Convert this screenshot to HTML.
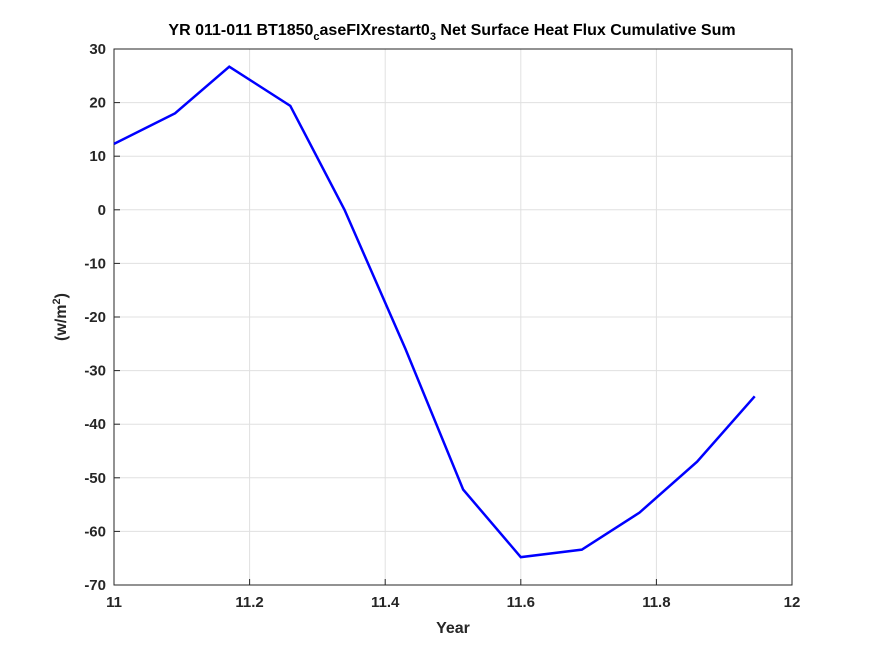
<!DOCTYPE html>
<html><head><meta charset="utf-8"><style>
body{margin:0;background:#fff;}
svg{display:block;font-family:"Liberation Sans","DejaVu Sans",sans-serif;}
</style></head><body>
<svg id="chart" width="875" height="656">
<rect width="875" height="656" fill="#fff"/>
<rect x="114" y="49" width="678" height="536" fill="#fff"/>
<g id="grid"></g>
<g id="ticks"></g>
<rect x="114" y="49" width="678" height="536" fill="none" stroke="#262626" stroke-width="1"/>
<polyline id="line" fill="none" stroke="#0000ff" stroke-width="2.5"/>
<text x="452" y="35" text-anchor="middle" font-size="16" font-weight="bold" fill="#000">YR 011-011 BT1850<tspan font-size="11" dy="5">c</tspan><tspan dy="-5">aseFIXrestart0</tspan><tspan font-size="11" dy="5">3</tspan><tspan dy="-5"> Net Surface Heat Flux  Cumulative Sum</tspan></text>
<text x="453" y="633" text-anchor="middle" font-size="16" font-weight="bold" fill="#262626">Year</text>
<text transform="translate(66,317) rotate(-90)" text-anchor="middle" font-size="16" font-weight="bold" fill="#262626">(w/m<tspan font-size="11" dy="-6">2</tspan><tspan dy="6">)</tspan></text>
</svg>
<script>
const xTicks=[11,11.2,11.4,11.6,11.8,12];
const yTicks=[30,20,10,0,-10,-20,-30,-40,-50,-60,-70];
const years=[11,11.09,11.17,11.26,11.34,11.43,11.515,11.6,11.69,11.775,11.86,11.945];
const flux=[12.3,18,26.7,19.4,0,-26,-52.2,-64.8,-63.4,-56.5,-47,-34.8];
const X0=114,X1=792,Y0=49,Y1=585;
const sx=v=>X0+(v-11)/(12-11)*(X1-X0);
const sy=v=>Y0+(30-v)/(100)*(Y1-Y0);
const NS="http://www.w3.org/2000/svg";
const grid=document.getElementById('grid'),ticks=document.getElementById('ticks');
function mk(tag,attrs,parent){const e=document.createElementNS(NS,tag);for(const k in attrs)e.setAttribute(k,attrs[k]);parent.appendChild(e);return e;}
xTicks.forEach(v=>{const x=sx(v);
 const g=mk('line',{x1:x,x2:x,y1:Y0,y2:Y1,stroke:'#e0e0e0','stroke-width':1},grid);
 
 
 const t=mk('line',{x1:x,x2:x,y1:Y1,y2:Y1-6,stroke:'#262626'},ticks);
 
 
 const l=mk('text',{x:x,y:Y1+22,'text-anchor':'middle','font-size':15,'font-weight':'bold',fill:'#262626'},ticks);
 l.textContent=String(v);
 
 
});
yTicks.forEach(v=>{const y=sy(v);
 const g=mk('line',{x1:X0,x2:X1,y1:y,y2:y,stroke:'#e0e0e0','stroke-width':1},grid);
 
 
 const t=mk('line',{x1:X0,x2:X0+6,y1:y,y2:y,stroke:'#262626'},ticks);
 
 
 const l=mk('text',{x:X0-8,y:y+5,'text-anchor':'end','font-size':15,'font-weight':'bold',fill:'#262626'},ticks);
 l.textContent=String(v);
 
 
});
document.getElementById('line').setAttribute('points',years.map((v,i)=>sx(v)+','+sy(flux[i])).join(' '));
</script>
</body></html>
